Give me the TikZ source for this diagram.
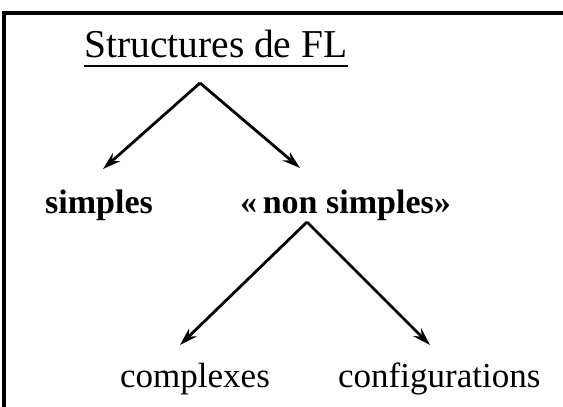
\documentclass[tikz,border=0pt]{standalone}
\usepackage{fontspec}
\setmainfont{Liberation Serif}
\usetikzlibrary{arrows.meta}
\begin{document}
\begin{tikzpicture}[x=1pt,y=-1pt,
  lbl/.style={inner sep=0pt,anchor=base west,font=\fontsize{35}{35}\selectfont},
  blbl/.style={inner sep=0pt,anchor=base west,font=\fontsize{34}{34}\selectfont\bfseries},
  arr/.style={line width=2.8pt,-{Stealth[length=18pt,width=11pt,inset=6pt]}},
  frame/.style={line width=3.5pt}]
  \useasboundingbox (0,0) rectangle (563,407);
  % frame: top and left edges
  \coordinate (ftl) at (4,13);
  \coordinate (ftr) at (563,13);
  \coordinate (fbl) at (4,407);
  \draw[frame] (ftr) -- (ftl) -- (fbl);
  % heading
  \node[lbl,font=\fontsize{39.5}{39.5}\selectfont] (title) at (84,57) {Structures de FL};
  \draw[line width=2.5pt] ([yshift=-9pt]title.base west) -- ([yshift=-9pt]title.base east);
  % level two
  \node[blbl] (simples) at (45,213) {simples};
  \node[blbl] (nonsimples) at (240,213) {«\,non simples»};
  % level three
  \node[lbl] (complexes) at (120,387) {complexes};
  \node[lbl] (config) at (338,387) {configurations};
  % branch points and tips
  \coordinate (a1) at (200,83);
  \coordinate (t1) at (103,169);
  \coordinate (t2) at (300,168);
  \coordinate (a2) at (307,222);
  \coordinate (t3) at (180,345);
  \coordinate (t4) at (430,345);
  \draw[arr] (a1) -- (t1);
  \draw[arr] (a1) -- (t2);
  \draw[arr] (a2) -- (t3);
  \draw[arr] (a2) -- (t4);
\end{tikzpicture}
\end{document}
